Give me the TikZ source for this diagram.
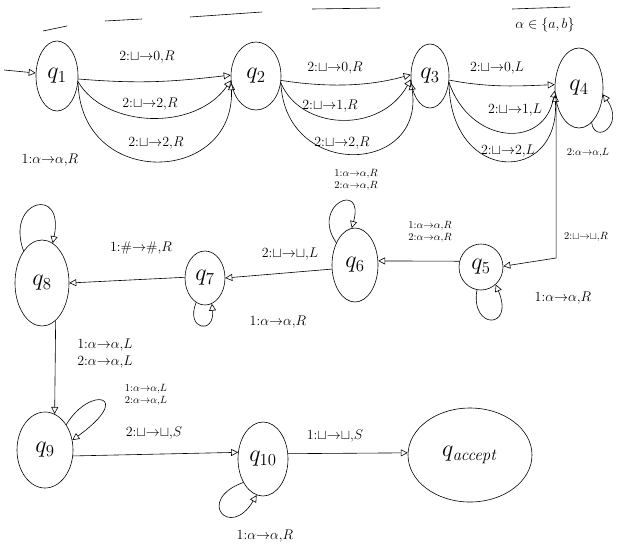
\RequirePackage{fix-cm}
\documentclass[tikz,border=0pt]{standalone}
\usetikzlibrary{arrows.meta,shapes.geometric}
% transition label: tape, read, write, move
\newcommand{\tlab}[4]{$#1{:}{#2}{\to}{#3}{,}#4$}
\begin{document}
\begin{tikzpicture}[x=1pt,y=-1pt,
  state/.style={draw,ellipse,inner sep=0pt,line width=0.6pt,font=\fontsize{24}{26}\selectfont},
  tr/.style={draw,line width=0.6pt,-{Triangle[open,length=7pt,width=7pt]}},
  plain/.style={draw,line width=0.6pt},
  lab/.style={font=\fontsize{14}{16}\selectfont},
  slab/.style={font=\fontsize{10.5}{11.5}\selectfont,align=left}]
\useasboundingbox (0,0) rectangle (620,552);

% strokes along the top
\draw[plain] (43,31) -- (67,26);
\draw[plain] (105,21) -- (142,19);
\draw[plain] (190,17) -- (262,12);
\draw[plain] (312,9) -- (380,8);
\draw[plain] (512,9) -- (570,7);
\node[lab] (alph) at (545,25) {$\alpha\in\{a,b\}$};

% states
\node[state,minimum width=42,minimum height=70] (q1) at (57,76) {$q_1$};
\node[state,minimum width=50,minimum height=68] (q2) at (256,76) {$q_2$};
\node[state,minimum width=38,minimum height=64] (q3) at (430,76) {$q_3$};
\node[state,minimum width=48,minimum height=80] (q4) at (579,88) {$q_4$};
\node[state,minimum width=44,minimum height=46] (q5) at (481,267) {$q_5$};
\node[state,minimum width=46,minimum height=74] (q6) at (355,265) {$q_6$};
\node[state,minimum width=40,minimum height=54] (q7) at (205,278) {$q_7$};
\node[state,minimum width=54,minimum height=86] (q8) at (42,283) {$q_8$};
\node[state,minimum width=56,minimum height=76] (q9) at (45,450) {$q_9$};
\node[state,minimum width=50,minimum height=74] (q10) at (263,459) {$q_{10}$};
\node[state,minimum width=124,minimum height=94] (qa) at (470,455) {$q_{\mathit{accept}}$};

% start
\coordinate (start) at (4,70);
\draw[tr] (start) -- (q1.172);

% q1 -> q2
\draw[tr] (q1.-8) .. controls (140,84) and (170,82) .. (q2.178);
\draw[tr] (q1.-15) .. controls (105,128) and (195,132) .. (q2.190);
\draw[tr] (q1.-15) .. controls (80,190) and (235,185) .. (q2.196);
\node[lab] (l12a) at (147,57) {\tlab{2}{\sqcup}{0}{R}};
\node[lab] (l12b) at (150,104) {\tlab{2}{\sqcup}{2}{R}};
\node[lab] (l12c) at (156,143) {\tlab{2}{\sqcup}{2}{R}};
\node[lab] (l1s) at (50,160) {\tlab{1}{\alpha}{\alpha}{R}};

% q2 -> q3
\draw[tr] (q2.-10) .. controls (330,88) and (370,86) .. (q3.176);
\draw[tr] (q2.-15) .. controls (300,130) and (380,135) .. (q3.190);
\draw[tr] (q2.-15) .. controls (285,180) and (425,175) .. (q3.200);
\node[lab] (l23a) at (335,68) {\tlab{2}{\sqcup}{0}{R}};
\node[lab] (l23b) at (330,106) {\tlab{2}{\sqcup}{1}{R}};
\node[lab] (l23c) at (342,143) {\tlab{2}{\sqcup}{2}{R}};

% q3 -> q4
\draw[tr] (q3.-12) .. controls (490,88) and (520,86) .. (q4.172);
\draw[tr] (q3.-18) .. controls (470,145) and (545,150) .. (q4.186);
\draw[tr] (q3.-18) .. controls (450,185) and (560,185) .. (q4.196);
\node[lab] (l34a) at (497,68) {\tlab{2}{\sqcup}{0}{L}};
\node[lab] (l34b) at (515,110) {\tlab{2}{\sqcup}{1}{L}};
\node[lab] (l34c) at (508,151) {\tlab{2}{\sqcup}{2}{L}};

% q4 loop
\draw[tr] (q4.-70) .. controls (595,145) and (625,125) .. (q4.-15);
\node[slab] (l44) at (588,153) {\tlab{2}{\alpha}{\alpha}{L}};

% q4 -> q5
\coordinate (c45) at (556,258);
\draw[tr] (q4.-150) -- (q4.-150 |- c45) -- (q5.2);
\node[slab] (l45) at (586,237) {\tlab{2}{\sqcup}{\sqcup}{R}};

% q5 loop and q5 -> q6
\draw[tr] (q5.-100) .. controls (470,330) and (515,330) .. (q5.-50);
\node[lab] (l55) at (563,298) {\tlab{1}{\alpha}{\alpha}{R}};
\draw[tr] (q5.165) -- (q6.10);
\node[slab] (l56) at (430,232) {\tlab{1}{\alpha}{\alpha}{R}\\\tlab{2}{\alpha}{\alpha}{R}};

% q6 loop and q6 -> q7
\draw[tr] (q6.130) .. controls (310,205) and (365,180) .. (q6.95);
\node[slab] (l66) at (356,180) {\tlab{1}{\alpha}{\alpha}{R}\\\tlab{2}{\alpha}{\alpha}{R}};
\draw[tr] (q6.190) -- (q7.0);
\node[lab] (l67) at (290,254) {\tlab{2}{\sqcup}{\sqcup}{L}};

% q7 loop and q7 -> q8
\draw[tr] (q7.-110) .. controls (185,330) and (215,335) .. (q7.-75);
\node[lab] (l77) at (278,322) {\tlab{1}{\alpha}{\alpha}{R}};
\draw[tr] (q7.178) -- (q8.0);
\node[lab] (l78) at (141,248) {\tlab{1}{\#}{\#}{R}};

% q8 loop and q8 -> q9
\draw[tr] (q8.120) .. controls (5,200) and (65,185) .. (q8.75);
\draw[tr] (q8.-70) -- (q9.75);
\node[lab,align=left] (l89) at (105,354) {\tlab{1}{\alpha}{\alpha}{L}\\[1pt]\tlab{2}{\alpha}{\alpha}{L}};

% q9 loop and q9 -> q10
\draw[tr] (q9.50) .. controls (90,385) and (135,395) .. (q9.20);
\node[slab] (l99) at (146,395) {\tlab{1}{\alpha}{\alpha}{L}\\\tlab{2}{\alpha}{\alpha}{L}};
\draw[tr] (q9.-12) -- (q10.165);
\node[lab] (l910) at (154,433) {\tlab{2}{\sqcup}{\sqcup}{S}};

% q10 loop and q10 -> accept
\draw[tr] (q10.-130) .. controls (195,500) and (230,540) .. (q10.-100);
\node[lab] (l1010) at (265,536) {\tlab{1}{\alpha}{\alpha}{R}};
\draw[tr] (q10.12) -- (qa.178);
\node[lab] (l10a) at (335,436) {\tlab{1}{\sqcup}{\sqcup}{S}};
\end{tikzpicture}
\end{document}
